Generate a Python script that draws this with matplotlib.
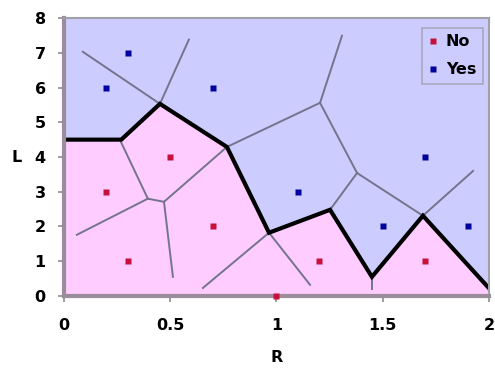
import numpy as np
import matplotlib
matplotlib.use("Agg")
from matplotlib import pyplot as plt

# training points
no_r = [0.2, 0.3, 0.5, 0.7, 1.0, 1.2, 1.7]
no_l = [3, 1, 4, 2, 0, 1, 1]
yes_r = [0.2, 0.3, 0.7, 1.1, 1.5, 1.7, 1.9]
yes_l = [6, 7, 6, 3, 2, 4, 2]

# decision boundary (thick line)
bound_r = [0.0, 0.27, 0.452, 0.767, 0.965, 1.252, 1.449, 1.689, 2.0]
bound_l = [4.5, 4.5, 5.53, 4.29, 1.82, 2.48, 0.55, 2.31, 0.22]

# voronoi cell edges (thin lines): vertices + index pairs
vert_r = [0.089, 0.452, 0.588, 1.205, 1.308, 0.767, 1.379, 1.252, 1.689, 1.925,
          0.965, 0.654, 1.158, 1.449, 1.449, 0.395, 0.268, 0.471, 0.061, 0.513]
vert_l = [7.03, 5.53, 7.38, 5.56, 7.49, 4.29, 3.54, 2.48, 2.31, 3.6,
          1.82, 0.23, 0.32, 0.55, 0.2, 2.8, 4.44, 2.71, 1.76, 0.55]
edges = [(0, 1), (1, 2), (3, 4), (3, 5), (3, 6), (6, 7), (6, 8), (8, 9),
         (10, 11), (10, 12), (13, 14), (15, 16), (15, 17), (15, 18),
         (17, 5), (17, 19)]

plt.rcParams['font.family'] = ['DejaVu Sans']
plt.rcParams['font.weight'] = 'bold'

fig = plt.figure(figsize=(4.95, 3.69), dpi=100)
ax = fig.add_axes([0.129, 0.198, 0.859, 0.753])

ax.fill_between(bound_r, 0, bound_l, color='#ffccff', lw=0)
ax.fill_between(bound_r, bound_l, 8, color='#ccccff', lw=0)

for a, b in edges:
    ax.plot([vert_r[a], vert_r[b]], [vert_l[a], vert_l[b]],
            color='#74748c', lw=1.4)

ax.plot(bound_r, bound_l, color='black', lw=3, solid_joinstyle='miter')

ax.plot(no_r, no_l, 's', color='#c8103c', ms=4, mec='none', label='No',
        clip_on=False, zorder=5)
ax.plot(yes_r, yes_l, 's', color='#00009c', ms=4, mec='none', label='Yes',
        clip_on=False, zorder=5)

ax.set_xlim(0, 2)
ax.set_ylim(0, 8)
ax.set_xticks([0, 0.5, 1, 1.5, 2])
ax.set_xticklabels(['0', '0.5', '1', '1.5', '2'])
ax.set_yticks(range(9))
ax.tick_params(labelsize=11.5, colors='#8c8c94', labelcolor='black',
               length=4, width=1.2)
ax.tick_params(axis='x', pad=12)
ax.tick_params(axis='y', pad=9)
for lab in ax.get_xticklabels() + ax.get_yticklabels():
    lab.set_fontweight('bold')

for s in ['left', 'bottom']:
    ax.spines[s].set_color('#9a8c9a')
    ax.spines[s].set_linewidth(3)
for s in ['top', 'right']:
    ax.spines[s].set_color('#a0a0a8')
    ax.spines[s].set_linewidth(1.5)

ax.set_xlabel('R', fontsize=11.5, fontweight='bold', labelpad=12)
ax.set_ylabel('L', fontsize=11.5, fontweight='bold', rotation=0,
              labelpad=13, va='center')

leg = ax.legend(loc='upper left', bbox_to_anchor=(0.842, 0.964),
                prop={'size': 11.5, 'weight': 'bold'}, frameon=True,
                fancybox=False, handlelength=0.6, handletextpad=0.5,
                borderpad=0.4, labelspacing=0.8, borderaxespad=0)
leg.get_frame().set_facecolor('#ccccff')
leg.get_frame().set_edgecolor('#a0a0b0')
leg.get_frame().set_linewidth(1.2)
leg.set_zorder(6)

fig.savefig('out.png', dpi=100)
